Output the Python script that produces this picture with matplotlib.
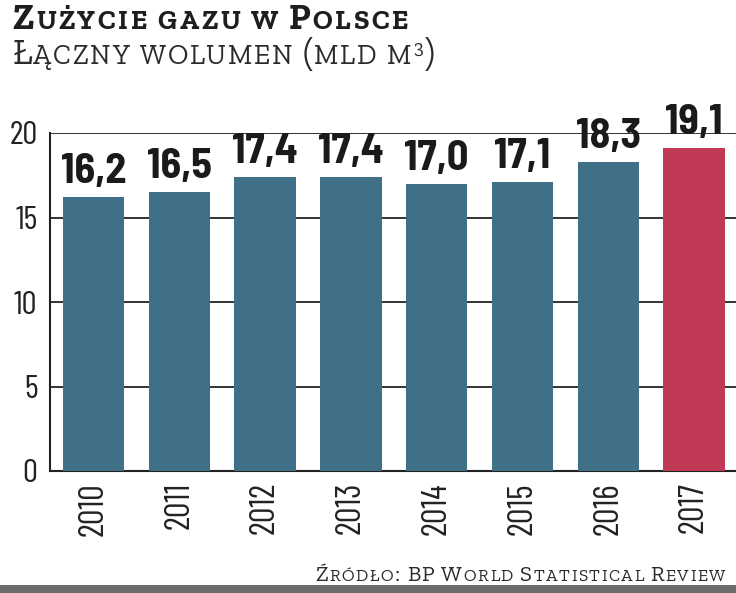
import matplotlib
matplotlib.use("Agg")
import matplotlib.pyplot as plt
from matplotlib import font_manager
from matplotlib.patches import Rectangle

years = ["2010", "2011", "2012", "2013", "2014", "2015", "2016", "2017"]
values = [16.2, 16.5, 17.4, 17.4, 17.0, 17.1, 18.3, 19.1]
value_labels = ["16,2", "16,5", "17,4", "17,4", "17,0", "17,1", "18,3", "19,1"]
y_ticks = [0, 5, 10, 15, 20]
title = "Zużycie gazu w Polsce"
subtitle = "Łączny wolumen (mld m³)"
source = "Źródło: BP World Statistical Review"

W, H = 736, 593
names = {f.name for f in font_manager.fontManager.ttflist}


def pick(cands, default="DejaVu Sans"):
    for c in cands:
        if c in names:
            return c
    return default


cond = pick(["Barlow Condensed", "Roboto Condensed", "IBM Plex Sans Condensed",
             "Open Sans Condensed", "Liberation Sans Narrow"])
semicond = pick(["Barlow Semi Condensed", "Roboto Condensed", "IBM Plex Sans Condensed",
                 "Barlow Condensed"], cond)
serif = pick(["Roboto Slab", "Zilla Slab", "Rokkitt", "Bitter", "DejaVu Serif"], "serif")

teal = "#3f7088"
red = "#c03a55"
colors = [teal] * (len(values) - 1) + [red]

fig = plt.figure(figsize=(W / 100, H / 100), dpi=100)
fig.patch.set_facecolor("white")

ax = fig.add_axes([50 / W, (H - 471) / H, 1 - 50 / W, (471 - 133) / H])
x = list(range(len(values)))
ax.bar(x, values, width=0.715, color=colors, zorder=3)
ax.set_xlim(-0.507, 7.49)
ax.set_ylim(0, 20)
ax.set_yticks(y_ticks)
ax.set_yticklabels([str(v) for v in y_ticks], fontfamily=cond, fontweight="normal",
                   fontsize=24, color="#222222")
ax.set_xticks(x)
ax.set_xticklabels(years, rotation=90, fontfamily=cond, fontweight="normal",
                   fontsize=25, color="#222222")
ax.tick_params(axis="both", length=0)
ax.tick_params(axis="y", pad=9)
ax.tick_params(axis="x", pad=8)
for s in ["top", "right"]:
    ax.spines[s].set_visible(False)
for s in ["left", "bottom"]:
    ax.spines[s].set_color("#222222")
    ax.spines[s].set_linewidth(1.5)
ax.yaxis.grid(True, color="#333333", linewidth=1.4, zorder=1)
ax.set_axisbelow(True)
ax.xaxis.grid(False)

for xi, v, lab in zip(x, values, value_labels):
    ax.annotate(lab, (xi, v), xytext=(0, 10), textcoords="offset points",
                ha="center", va="baseline", fontfamily=semicond, fontweight="bold",
                fontsize=30.5, color="#1a1a1a", zorder=5)

renderer = fig.canvas.get_renderer()
_cache = {}


def ink_w(s, size, weight, family):
    key = (s, size, weight, family)
    if key not in _cache:
        t = fig.text(0, 0, s, fontsize=size, fontweight=weight, fontfamily=family)
        _cache[key] = t.get_window_extent(renderer).width
        t.remove()
    return _cache[key]


def adv(c, size, weight, family):
    return ink_w("H" + c + "H", size, weight, family) - ink_w("HH", size, weight, family)


def layout(s, big, small, sup):
    items = []
    for ch in s:
        if ch == "³":
            items.append(("3", sup, True))
        elif ch.isalpha() and ch.islower():
            items.append((ch.upper(), small, False))
        else:
            items.append((ch, big, False))
    return items


def draw_smallcaps(x_px, base_px, s, big, small, weight, color, family,
                   target_w=None, sup_raise=0.0):
    items = layout(s, big, small, small * 0.72)
    advs = [adv(c, sz, weight, family) for c, sz, _ in items]
    natural = sum(advs)
    track = 0.0
    if target_w is not None and len(items) > 1:
        track = (target_w - natural) / (len(items) - 1)
        track = max(-1.5, min(5.0, track))
    xpos = x_px
    for (c, sz, is_sup), a in zip(items, advs):
        yb = base_px - (sup_raise if is_sup else 0)
        if c != " ":
            fig.text(xpos / W, 1 - yb / H, c, fontsize=sz, fontweight=weight,
                     fontfamily=family, color=color, ha="left", va="baseline")
        xpos += a + (track if c != " " else track * 0.5)


draw_smallcaps(12, 29, title, 26, 20, 800, "#1e1e1e", serif, target_w=400)
draw_smallcaps(12, 64, subtitle, 26, 20, "normal", "#2a2a2a", serif, target_w=425,
               sup_raise=11)
draw_smallcaps(315, 581, source, 16, 12.5, "normal", "#2a2a2a", serif, target_w=413)

fig.patches.append(Rectangle((0, 0), 1, 8 / H, transform=fig.transFigure,
                             facecolor="#6b6b6b", edgecolor="none", zorder=0))

fig.savefig("out.png", dpi=100)
